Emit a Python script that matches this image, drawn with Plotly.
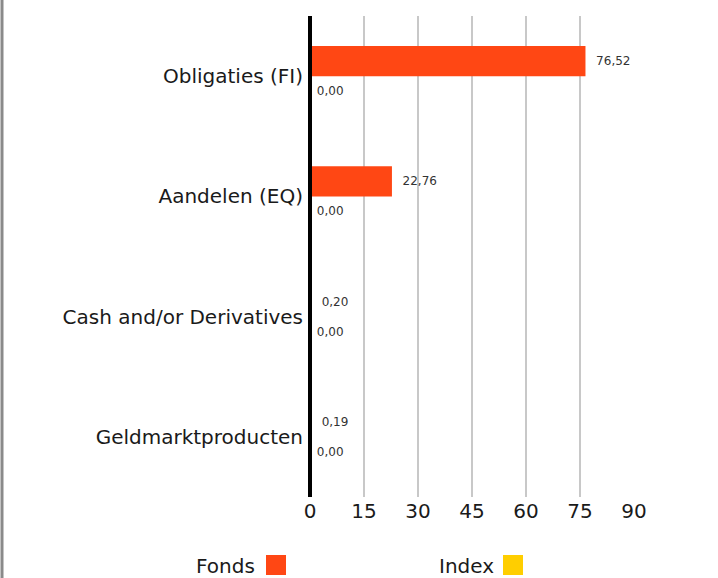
import plotly.graph_objects as go

categories = ["Obligaties (FI)", "Aandelen (EQ)", "Cash and/or Derivatives", "Geldmarktproducten"]
fonds = [76.52, 22.76, 0.20, 0.19]
index_vals = [0.00, 0.00, 0.00, 0.00]
tick_vals = [0, 15, 30, 45, 60, 75, 90]

FONT = "DejaVu Sans"
W, H = 718, 578
ML, MR, MT, MB = 310, 84, 16, 81
PW, PH = W - ML - MR, H - MT - MB

def px_x(p):
    return (p - ML) / PW

def px_y(p):
    return (H - MB - p) / PH

fig = go.Figure()
fig.add_trace(go.Bar(
    y=categories, x=fonds, orientation="h", name="Fonds",
    marker=dict(color="#FF4714", line=dict(width=0)),
    texttemplate="\u00a0\u00a0%{x:.2f}", textposition="outside",
    textfont=dict(family=FONT, size=12, color="#333333"),
    cliponaxis=False,
))
fig.add_trace(go.Bar(
    y=categories, x=index_vals, orientation="h", name="Index",
    marker=dict(color="#FFCE00", line=dict(width=0)),
    texttemplate="\u00a0%{x:.2f}", textposition="outside",
    textfont=dict(family=FONT, size=12, color="#333333"),
    cliponaxis=False,
))

fig.update_layout(
    width=W, height=H,
    margin=dict(l=ML, r=MR, t=MT, b=MB),
    paper_bgcolor="white", plot_bgcolor="white",
    barmode="group", bargap=0.5, bargroupgap=0,
    separators=", ",
    showlegend=False,
    font=dict(family=FONT, color="#1a1a1a"),
    xaxis=dict(
        range=[0, 90], tickvals=tick_vals, showgrid=True,
        gridcolor="#c8c8c8", gridwidth=2, zeroline=False,
        showline=False, ticks="", tickfont=dict(family=FONT, size=20, color="#1a1a1a"),
        fixedrange=True,
    ),
    yaxis=dict(
        autorange="reversed", showgrid=False, zeroline=False,
        showline=False, ticks="outside", ticklen=2, tickcolor="rgba(0,0,0,0)",
        tickfont=dict(family=FONT, size=20, color="#1a1a1a"),
        fixedrange=True,
    ),
)

# zero axis line (paper-referenced so it is not clipped at the plot edge)
fig.add_shape(type="line", xref="paper", yref="paper", x0=0, x1=0, y0=0, y1=1.0,
              line=dict(color="black", width=4), layer="above")
# left border
fig.add_shape(type="line", xref="paper", yref="paper", x0=px_x(2), x1=px_x(2),
              y0=px_y(578), y1=px_y(0), line=dict(color="#8a8a8a", width=3))

# custom legend: text followed by square
legend_items = [("Fonds", "#FF4714", 257, 266), ("Index", "#FFCE00", 496, 503)]
for label, color, text_right, sq_left in legend_items:
    fig.add_annotation(text=label, xref="paper", yref="paper",
                       x=px_x(text_right), y=px_y(566), xanchor="right", yanchor="middle",
                       showarrow=False, font=dict(family=FONT, size=20, color="#1a1a1a"))
    fig.add_shape(type="rect", xref="paper", yref="paper",
                  x0=px_x(sq_left), x1=px_x(sq_left + 20), y0=px_y(575), y1=px_y(555),
                  fillcolor=color, line=dict(width=0))

fig.write_html("out.html", config={"displayModeBar": False},
               post_script="document.body.style.margin='0';document.body.style.overflow='hidden';")
